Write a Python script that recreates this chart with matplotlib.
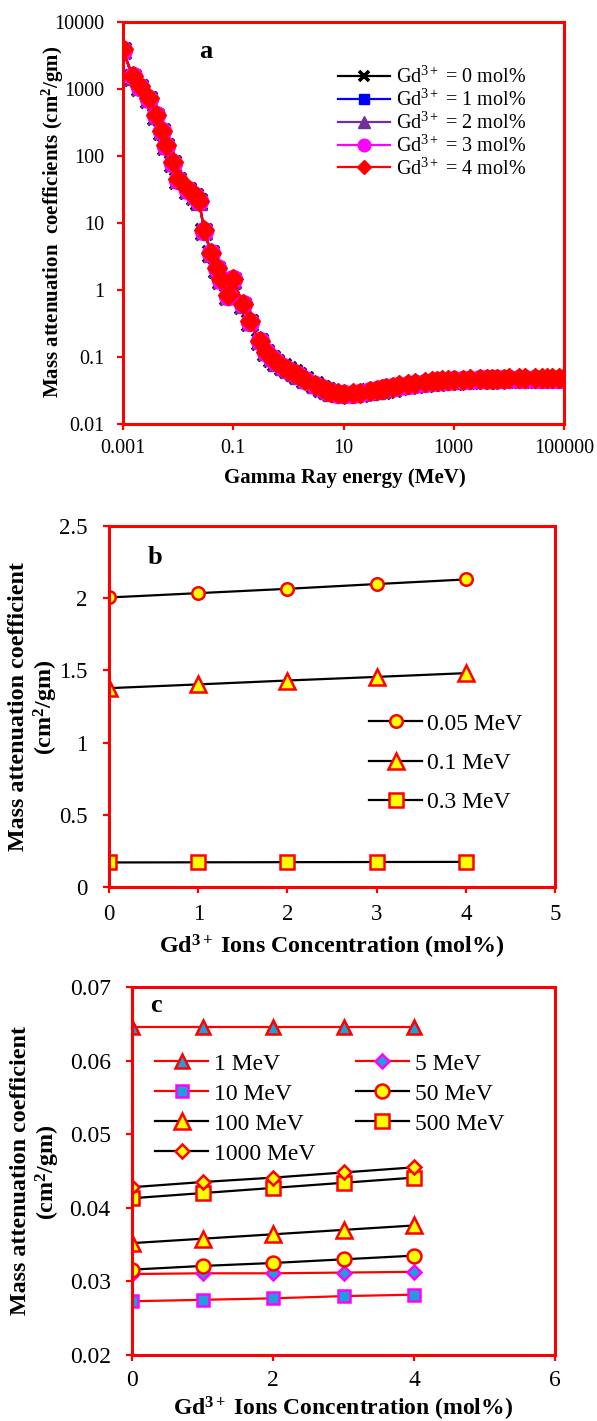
import numpy as np
import matplotlib.pyplot as plt
from matplotlib.ticker import FixedLocator, FixedFormatter

plt.rcParams['font.family'] = ['Liberation Serif', 'DejaVu Serif']
plt.rcParams['mathtext.fontset'] = 'custom'
plt.rcParams['mathtext.rm'] = 'Liberation Serif'
plt.rcParams['mathtext.it'] = 'Liberation Serif:italic'
plt.rcParams['mathtext.bf'] = 'Liberation Serif:bold'

W, H = 597, 1421

# ---- (a) mass attenuation coefficient vs photon energy ----
energy = [0.001, 0.0015, 0.002, 0.003, 0.004, 0.005, 0.006, 0.008, 0.01, 0.015,
          0.02, 0.024, 0.03, 0.04, 0.05, 0.06, 0.08, 0.1, 0.15, 0.2,
          0.3, 0.4, 0.5, 0.6, 0.8, 1, 1.25, 1.5, 2, 3,
          4, 5, 6, 8, 10, 15, 20, 30, 40, 50,
          60, 80, 100, 150, 200, 300, 400, 500, 600, 800,
          1000, 1500, 2000, 3000, 4000, 5000, 6000, 8000, 10000, 15000,
          20000, 30000, 40000, 50000, 60000, 80000, 100000]

mu_gd0 = [3700, 1480, 1040, 690, 385, 226, 137, 75, 42.5, 30.0,
          24.5, 20.3, 7.30, 3.40, 2.005, 1.36, 0.780, 1.377, 0.580, 0.320,
          0.170, 0.116, 0.094, 0.082, 0.071, 0.0646, 0.0578, 0.0527, 0.0457, 0.0380,
          0.0337, 0.0310, 0.0293, 0.0279, 0.0273, 0.0276, 0.0283, 0.0296, 0.0307, 0.0316,
          0.0324, 0.0337, 0.0352, 0.0367, 0.0378, 0.0392, 0.0403, 0.0413, 0.0417, 0.0423,
          0.0428, 0.0434, 0.0437, 0.0441, 0.0444, 0.0446, 0.0447, 0.0449, 0.0450, 0.0451,
          0.0452, 0.0453, 0.0453, 0.0454, 0.0454, 0.0454, 0.0455]

mu_gd1 = [3750, 1500, 1055, 700, 391, 230, 139, 76, 43.1, 30.5,
          24.9, 20.6, 7.42, 3.45, 2.035, 1.38, 0.792, 1.403, 0.590, 0.325,
          0.171, 0.116, 0.094, 0.082, 0.071, 0.0646, 0.0578, 0.0528, 0.0458, 0.0381,
          0.0338, 0.0311, 0.0294, 0.0281, 0.0275, 0.0278, 0.0286, 0.0300, 0.0311, 0.0321,
          0.0329, 0.0343, 0.0358, 0.0373, 0.0384, 0.0399, 0.0410, 0.0420, 0.0424, 0.0430,
          0.0435, 0.0441, 0.0444, 0.0448, 0.0451, 0.0453, 0.0454, 0.0456, 0.0457, 0.0458,
          0.0459, 0.0460, 0.0460, 0.0461, 0.0461, 0.0461, 0.0462]

mu_gd2 = [3800, 1525, 1070, 710, 397, 233, 141, 77.5, 43.8, 31.0,
          25.3, 20.9, 7.55, 3.50, 2.065, 1.41, 0.805, 1.430, 0.600, 0.330,
          0.172, 0.117, 0.095, 0.082, 0.071, 0.0646, 0.0579, 0.0529, 0.0459, 0.0382,
          0.0339, 0.0311, 0.0295, 0.0282, 0.0277, 0.0281, 0.0289, 0.0304, 0.0316, 0.0325,
          0.0334, 0.0348, 0.0364, 0.0379, 0.0391, 0.0405, 0.0417, 0.0427, 0.0431, 0.0437,
          0.0441, 0.0447, 0.0451, 0.0455, 0.0458, 0.0460, 0.0461, 0.0463, 0.0464, 0.0465,
          0.0466, 0.0467, 0.0467, 0.0468, 0.0468, 0.0468, 0.0469]

mu_gd3 = [3850, 1545, 1085, 720, 404, 237, 143, 79, 44.4, 31.5,
          25.6, 21.2, 7.68, 3.55, 2.098, 1.43, 0.818, 1.455, 0.610, 0.335,
          0.173, 0.117, 0.095, 0.083, 0.072, 0.0646, 0.0579, 0.0530, 0.0460, 0.0383,
          0.0340, 0.0312, 0.0296, 0.0284, 0.0280, 0.0284, 0.0292, 0.0307, 0.0320, 0.0330,
          0.0339, 0.0353, 0.0370, 0.0385, 0.0397, 0.0412, 0.0424, 0.0434, 0.0439, 0.0444,
          0.0448, 0.0454, 0.0458, 0.0462, 0.0465, 0.0467, 0.0468, 0.0470, 0.0471, 0.0473,
          0.0474, 0.0475, 0.0475, 0.0476, 0.0476, 0.0476, 0.0477]

mu_gd4 = [3900, 1570, 1100, 730, 410, 240, 145, 80, 45.0, 32.0,
          26.0, 21.5, 7.80, 3.60, 2.130, 1.45, 0.830, 1.481, 0.620, 0.340,
          0.174, 0.118, 0.095, 0.083, 0.072, 0.0646, 0.0580, 0.0531, 0.0461, 0.0385,
          0.0342, 0.0313, 0.0298, 0.0286, 0.0282, 0.0287, 0.0295, 0.0311, 0.0324, 0.0335,
          0.0344, 0.0359, 0.0376, 0.0392, 0.0404, 0.0419, 0.0431, 0.0441, 0.0446, 0.0451,
          0.0455, 0.0461, 0.0465, 0.0469, 0.0472, 0.0474, 0.0475, 0.0477, 0.0478, 0.0480,
          0.0481, 0.0482, 0.0482, 0.0483, 0.0483, 0.0483, 0.0484]

gd_labels = [r'Gd$^{3+}$ = 0 mol%', r'Gd$^{3+}$ = 1 mol%', r'Gd$^{3+}$ = 2 mol%',
             r'Gd$^{3+}$ = 3 mol%', r'Gd$^{3+}$ = 4 mol%']

# ---- (b) and (c): coefficient vs Gd3+ content ----
conc = [0, 1, 2, 3, 4]

mu_005 = [2.005, 2.035, 2.065, 2.098, 2.130]
mu_01 = [1.377, 1.403, 1.430, 1.455, 1.481]
mu_03 = [0.170, 0.171, 0.172, 0.173, 0.174]

mu_1mev = [0.0646, 0.0646, 0.0646, 0.0646, 0.0646]
mu_5mev = [0.0310, 0.0311, 0.0311, 0.0312, 0.0313]
mu_10mev = [0.0273, 0.0275, 0.0277, 0.0280, 0.0282]
mu_50mev = [0.0316, 0.0321, 0.0325, 0.0330, 0.0335]
mu_100mev = [0.0352, 0.0358, 0.0364, 0.0370, 0.0376]
mu_500mev = [0.0413, 0.0420, 0.0427, 0.0434, 0.0441]
mu_1000mev = [0.0428, 0.0435, 0.0441, 0.0448, 0.0455]

RED = '#FF0000'
YEL = '#FFFF00'
CYAN = '#1E9FDB'
MAG = '#FF00FF'


def px_axes(l, t, r, b):
    return [l / W, 1 - b / H, (r - l) / W, (b - t) / H]


def style_axes(ax, size, xpad, ypad):
    for s in ax.spines.values():
        s.set_color(RED)
        s.set_linewidth(2.2)
    ax.tick_params(which='major', direction='out', color=RED, width=1.6,
                   length=4.3, labelsize=size, labelcolor='black')
    ax.tick_params(axis='x', pad=xpad)
    ax.tick_params(axis='y', pad=ypad)
    ax.tick_params(which='minor', length=0)


def ftext(x, y, s, size, rot=0, bold=True):
    fig.text(x / W, 1 - y / H, s, ha='center', va='center', rotation=rot,
             fontsize=size, fontweight='bold' if bold else 'normal')


fig = plt.figure(figsize=(W / 100, H / 100), dpi=100)

# panel a
ax1 = fig.add_axes(px_axes(123, 22, 564, 424))
style1 = [('x', 'black', 11), ('s', '#0000FF', 9.5), ('^', '#7030A0', 12),
          ('o', MAG, 13), ('D', RED, 10)]
series = [mu_gd0, mu_gd1, mu_gd2, mu_gd3, mu_gd4]
for vals, lab, (mk, col, ms) in zip(series, gd_labels, style1):
    ax1.plot(energy, vals, color=col, lw=1.6, marker=mk, ms=ms,
             mew=2.6 if mk == 'x' else 1, mec=col, mfc=col, label=lab)
ax1.set_xscale('log')
ax1.set_yscale('log')
ax1.set_xlim(0.001, 100000)
ax1.set_ylim(0.01, 10000)
xt = [0.001, 0.1, 10, 1000, 100000]
ax1.xaxis.set_major_locator(FixedLocator(xt))
ax1.xaxis.set_major_formatter(FixedFormatter(['0.001', '0.1', '10', '1000', '100000']))
yt = [0.01, 0.1, 1, 10, 100, 1000, 10000]
ax1.yaxis.set_major_locator(FixedLocator(yt))
ax1.yaxis.set_major_formatter(FixedFormatter(['0.01', '0.1', '1', '10', '100', '1000', '10000']))
ax1.xaxis.set_minor_locator(FixedLocator([]))
ax1.yaxis.set_minor_locator(FixedLocator([]))
style_axes(ax1, 14.5, 6.5, 9)
ax1.legend(loc='upper left', bbox_to_anchor=((338 - 123) / 441, (424 - 67) / 402),
           frameon=False, fontsize=14.5, handlelength=2.6, handletextpad=0.3,
           labelspacing=0.08, borderpad=0, borderaxespad=0, markerscale=0.7)
ftext(206, 52, 'a', 19)
ftext(53, 222, r'Mass attenuation  coefficients (cm$^{\mathbf{2}}$/gm)', 15, rot=90)
ftext(345, 478, 'Gamma Ray energy (MeV)', 15)

# panel b
ax2 = fig.add_axes(px_axes(109, 526, 555, 887))
yk = dict(mfc=YEL, mec=RED, mew=1.8, color='black', lw=1.6)
ax2.plot(conc, mu_005, marker='o', ms=9, label='0.05 MeV', **yk)
ax2.plot(conc, mu_01, marker='^', ms=12, label='0.1 MeV', **yk)
ax2.plot(conc, mu_03, marker='s', ms=10, label='0.3 MeV', **yk)
ax2.set_xlim(0, 5)
ax2.set_ylim(0, 2.5)
ax2.set_xticks([0, 1, 2, 3, 4, 5])
ax2.set_yticks([0, 0.5, 1, 1.5, 2, 2.5])
ax2.set_yticklabels(['0', '0.5', '1', '1.5', '2', '2.5'])
style_axes(ax2, 16.5, 8, 11)
ax2.legend(loc='upper left', bbox_to_anchor=((369 - 109) / 446, (887 - 713) / 361),
           frameon=False, fontsize=17, handlelength=2.25, handletextpad=0.2,
           labelspacing=0.75, borderpad=0, borderaxespad=0)
ftext(155, 557, 'b', 19)
ftext(19, 707, 'Mass attenuation coefficient', 17.3, rot=90)
ftext(46, 707, r'(cm$^{\mathbf{2}}$/gm)', 17.3, rot=90)
ftext(332, 947, r'Gd$^{\mathbf{3+}}$ Ions Concentration (mol%)', 17.3)

# panel c
ax3 = fig.add_axes(px_axes(132, 987, 555, 1355))
cyan_style = dict(mfc=CYAN, color=RED, lw=1.6, mew=1.8)
yel_style = dict(mfc=YEL, mec=RED, color='black', lw=1.6, mew=1.8)
h1, = ax3.plot(conc, mu_1mev, marker='^', ms=10, mec=RED, label='1 MeV', **cyan_style)
h5, = ax3.plot(conc, mu_5mev, marker='D', ms=7.5, mec=MAG, label='5 MeV', **cyan_style)
h10, = ax3.plot(conc, mu_10mev, marker='s', ms=9, mec=MAG, label='10 MeV', **cyan_style)
h50, = ax3.plot(conc, mu_50mev, marker='o', ms=10, label='50 MeV', **yel_style)
h100, = ax3.plot(conc, mu_100mev, marker='^', ms=12, label='100 MeV', **yel_style)
h500, = ax3.plot(conc, mu_500mev, marker='s', ms=10, label='500 MeV', **yel_style)
h1000, = ax3.plot(conc, mu_1000mev, marker='D', ms=7.5, label='1000 MeV', **yel_style)
ax3.set_xlim(0, 6)
ax3.set_ylim(0.02, 0.07)
ax3.set_xticks([0, 2, 4, 6])
ax3.set_yticks([0.02, 0.03, 0.04, 0.05, 0.06, 0.07])
ax3.set_yticklabels(['0.02', '0.03', '0.04', '0.05', '0.06', '0.07'])
style_axes(ax3, 17, 6.5, 11)
# row-wise order in two columns
order = [h1, h10, h100, h1000, h5, h50, h500]
ax3.legend(order, [h.get_label() for h in order], ncol=2, loc='upper left',
           bbox_to_anchor=((155 - 132) / 423, (1355 - 1053) / 368),
           frameon=False, fontsize=17, handlelength=2.25, handletextpad=0.25,
           labelspacing=0.36, columnspacing=1.7, borderpad=0, borderaxespad=0)
ftext(156, 1005, 'c', 19)
ftext(21, 1171, 'Mass attenuation coefficient', 17.3, rot=90)
ftext(48, 1172, r'(cm$^{\mathbf{2}}$/gm)', 17.3, rot=90)
ftext(343, 1409, r'Gd$^{\mathbf{3+}}$ Ions Concentration (mol%)', 17)

fig.savefig('out.png', dpi=100, facecolor='white')
